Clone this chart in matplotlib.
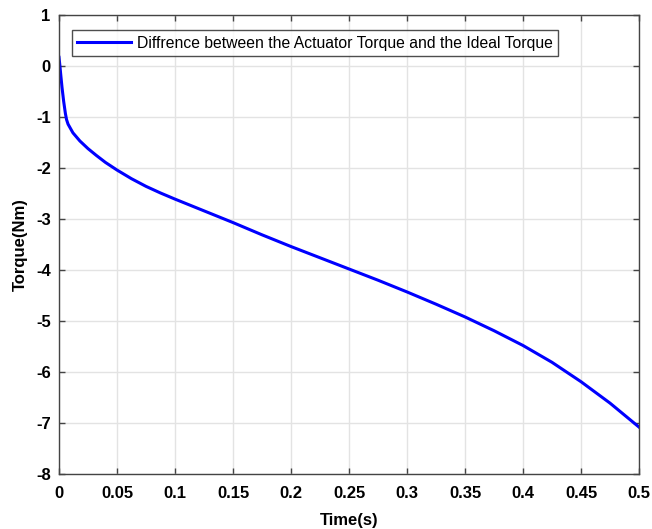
import matplotlib
matplotlib.use("Agg")
import matplotlib.pyplot as plt

plt.rcParams['font.family'] = ['Liberation Sans', 'DejaVu Sans']
plt.rcParams['axes.unicode_minus'] = False

time_s = [0.0, 0.0008, 0.0015, 0.0026, 0.004, 0.0055, 0.0065, 0.0078, 0.012, 0.018,
          0.025, 0.032, 0.04, 0.05, 0.0625, 0.075, 0.0875, 0.1, 0.125, 0.15,
          0.175, 0.2, 0.225, 0.25, 0.275, 0.3, 0.325, 0.35, 0.375, 0.4,
          0.425, 0.45, 0.475, 0.5]
torque_diff = [0.17, 0.0, -0.17, -0.42, -0.69, -0.93, -1.05, -1.14, -1.31, -1.47,
               -1.62, -1.75, -1.89, -2.04, -2.21, -2.36, -2.49, -2.61, -2.84, -3.07,
               -3.31, -3.54, -3.76, -3.98, -4.20, -4.43, -4.67, -4.92, -5.19, -5.48,
               -5.81, -6.19, -6.61, -7.08]
x_ticks = [0, 0.05, 0.1, 0.15, 0.2, 0.25, 0.3, 0.35, 0.4, 0.45, 0.5]
x_tick_labels = ['0', '0.05', '0.1', '0.15', '0.2', '0.25', '0.3', '0.35', '0.4', '0.45', '0.5']
y_ticks = [-8, -7, -6, -5, -4, -3, -2, -1, 0, 1]
legend_label = 'Diffrence between the Actuator Torque and the Ideal Torque'

fig = plt.figure(figsize=(6.52, 5.29), dpi=100)
ax = fig.add_axes([59/652, 1 - 474/529, 580/652, 459/529])

ax.plot(time_s, torque_diff, color='#0000ff', lw=2.2, label=legend_label,
        solid_joinstyle='round')

ax.set_xlim(0, 0.5)
ax.set_ylim(-8, 1)
ax.set_xticks(x_ticks)
ax.set_xticklabels(x_tick_labels)
ax.set_yticks(y_ticks)
ax.grid(True, color='#e3e3e3', lw=1)
ax.set_axisbelow(True)
ax.tick_params(direction='in', top=True, right=True, length=4, width=1,
               color='#444444', labelsize=12)
ax.tick_params(axis='x', pad=9)
ax.tick_params(axis='y', pad=6)
for lab in ax.get_xticklabels() + ax.get_yticklabels():
    lab.set_fontweight('bold')
for sp in ax.spines.values():
    sp.set_color('#444444')
    sp.set_linewidth(1)

ax.set_xlabel('Time(s)', fontsize=12, fontweight='bold', labelpad=8)
ax.set_ylabel('Torque(Nm)', fontsize=12, fontweight='bold', labelpad=6)

leg = ax.legend(loc='upper left', bbox_to_anchor=(0.022, 0.967), fontsize=11.3,
                frameon=True, fancybox=False, edgecolor='#222222',
                handlelength=3.4, borderaxespad=0, borderpad=0.35, handletextpad=0.4)
leg.get_frame().set_linewidth(1)

fig.savefig('out.png', dpi=100)
